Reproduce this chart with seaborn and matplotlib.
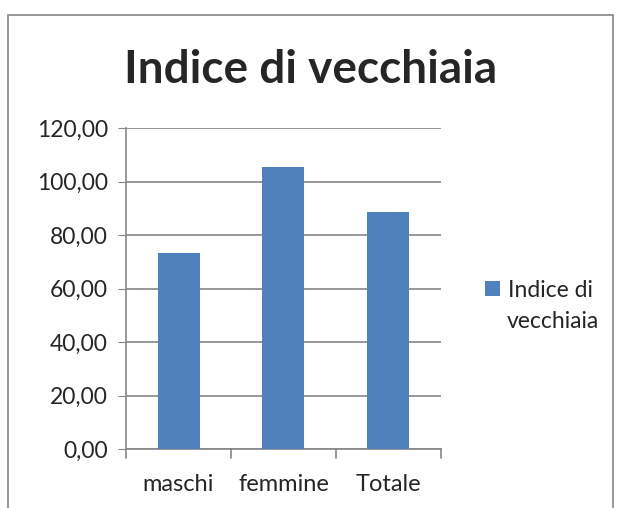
import matplotlib
matplotlib.use('Agg')
import matplotlib.pyplot as plt
import seaborn as sns
import pandas as pd
from matplotlib.patches import Rectangle

# dati
categorie = ['maschi', 'femmine', 'Totale']
valori = [73.4, 105.3, 88.7]
y_ticks = [0, 20, 40, 60, 80, 100, 120]
serie = 'Indice di vecchiaia'

df = pd.DataFrame({'categoria': categorie, 'valore': valori})

sns.set_style('white')
plt.rcParams['font.family'] = ['Lato', 'DejaVu Sans']

fig = plt.figure(figsize=(6.21, 5.08), dpi=100)
ax = fig.add_axes([0.203, 0.116, 0.507, 0.632])

sns.barplot(data=df, x='categoria', y='valore', color='#4F81BD', width=0.4,
            saturation=1, ax=ax, label='Indice di', zorder=3, linewidth=0)

ax.set_ylim(0, 120)
ax.set_xlim(-0.5, 2.5)
ax.set_yticks(y_ticks)
ax.set_yticklabels([f'{v:.2f}'.replace('.', ',') for v in y_ticks], fontsize=16.5)
ax.set_xlabel('')
ax.set_ylabel('')
ax.tick_params(axis='x', labelsize=17, length=0, pad=18)
ax.tick_params(axis='y', length=6, color='#868686', pad=7, left=True)

# griglia e assi
ax.grid(axis='y', color='#868686', linewidth=1.2, zorder=0)
ax.set_axisbelow(True)
for s in ['top', 'right']:
    ax.spines[s].set_visible(False)
ax.spines['left'].set_color('#868686')
ax.spines['bottom'].set_color('#868686')
ax.spines['left'].set_linewidth(1.2)
ax.spines['bottom'].set_linewidth(1.2)

# tacche tra le categorie
for xb in [-0.5, 0.5, 1.5, 2.5]:
    ax.plot([xb, xb], [0, -3.2], color='#868686', linewidth=1.2, clip_on=False)

fig.text(0.5, 0.862, serie, ha='center', va='center', fontsize=33, fontweight='bold')

# legenda: prima riga con il quadratino, seconda riga a parte
leg = ax.legend(loc='upper left', bbox_to_anchor=(1.14, 0.527), frameon=False,
                fontsize=16.5, handlelength=0.65, handleheight=0.65,
                handletextpad=0.35, borderaxespad=0, borderpad=0)
fig.text(507 / 621, 1 - 322 / 508, 'vecchiaia', ha='left', va='center', fontsize=16.5)

# cornice del grafico
fig.add_artist(Rectangle((8 / 621, -0.1), 605 / 621, 1.1 - 15 / 508,
                         transform=fig.transFigure, fill=False,
                         edgecolor='#868686', linewidth=1.2))

fig.savefig('out.png', dpi=100)
